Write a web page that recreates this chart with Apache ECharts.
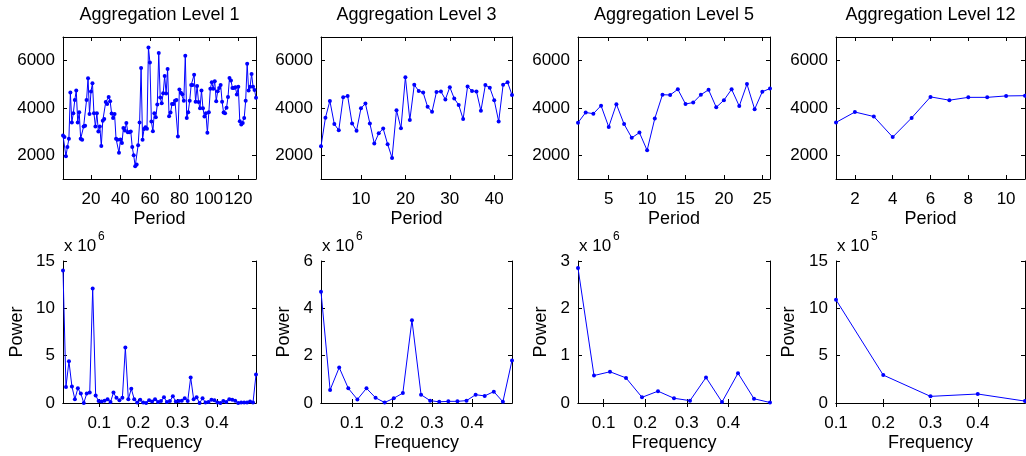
<!DOCTYPE html>
<html><head><meta charset="utf-8">
<script src="https://cdn.jsdelivr.net/npm/echarts@6/dist/echarts.min.js"></script>
<style>html,body{margin:0;padding:0;background:#fff}#c{width:1026px;height:456px}</style>
</head><body><div id="c"></div>
<script>
// ---------- DATA ----------
const titles = ['Aggregation Level 1','Aggregation Level 3','Aggregation Level 5','Aggregation Level 12'];
const level1 = [2840,2770,1960,2350,2700,4650,3390,3780,4340,4740,3390,3820,2700,2660,3220,3250,4340,5260,3750,4700,
 5050,3780,3220,3780,3010,3220,2390,3460,3540,4250,4170,4460,4290,3770,3580,3750,2700,2660,2110,2670,
 2520,3150,3050,3370,2980,2980,3010,2350,2000,1540,1610,2430,3390,5690,2660,3110,3190,3120,6560,5920,
 3430,3020,3780,3610,4150,6320,4440,4200,4620,5350,4610,5650,3650,3810,4170,4170,4310,4340,2800,4780,
 4640,4580,4310,6210,3580,3820,4310,4970,4970,5410,4260,4930,4250,3990,4740,3990,3640,3780,2950,3820,
 4810,5090,4810,5130,4290,4710,4850,4970,4260,3810,3780,4010,4460,5270,5160,4850,4850,4880,4570,4900,
 3440,3300,3370,3580,4310,5870,4740,4900,5440,4900,4760,4430];
const level3 = [2380,3590,4300,3320,3060,4450,4510,3350,3040,3990,4190,3350,2500,2930,3130,2470,1890,3910,3140,5300,
 3490,4980,4720,4650,4050,3840,4680,4700,4360,4880,4400,4130,3530,4910,4720,4700,3880,4970,4860,4330,
 3430,4980,5090,4550];
const level5 = [3380,3810,3760,4100,3200,4160,3320,2740,2960,2210,3560,4560,4550,4790,4170,4230,4560,4770,4030,4330,
 4790,4080,5010,3950,4690,4820];
const level12 = [3390,3830,3640,2770,3580,4470,4330,4450,4450,4510,4520];
// power spectra (in units of the exponent shown above each axis)
const power1 = [14.0,1.7,4.4,1.75,0.4,1.55,1.0,0.0,1.0,1.1,12.1,0.8,0.2,0.17,0.25,0.4,0.1,1.1,0.55,0.3,
 0.55,5.85,0.4,1.5,0.4,0.05,0.35,0.05,0.0,0.3,0.15,0.4,0.1,0.2,0.6,0.1,0.2,0.7,0.15,0.2,
 0.25,0.5,0.2,2.7,0.4,0.6,0.0,0.5,0.05,0.1,0.35,0.3,0.05,0.0,0.2,0.1,0.4,0.35,0.25,0.0,
 0.05,0.05,0.05,0.15,0.05,3.0];
const power3 = [4.7,0.55,1.5,0.62,0.15,0.62,0.22,0.02,0.2,0.42,3.5,0.35,0.1,0.05,0.07,0.07,0.1,0.35,0.3,0.48,0.05,1.8];
const power5 = [2.85,0.58,0.66,0.53,0.12,0.25,0.1,0.05,0.54,0.02,0.63,0.09,0.01];
const power12 = [10.9,2.95,0.7,0.95,0.2];
const specN = [132,44,26,10];           // frequency step denominators
const exponents = ['6','6','6','5'];
const periodTicks = [[20,40,60,80,100,120],[10,20,30,40],[5,10,15,20,25],[2,4,6,8,10]];
const levelTicks = [2000,4000,6000];
const freqTicks = [[0.1,0.2,0.3,0.4],[0.1,0.2,0.3,0.4],[0.1,0.2,0.3,0.4],[0.1,0.2,0.3,0.4]];
const powerTicks = [[0,5,10,15],[0,2,4,6],[0,1,2,3],[0,5,10,15]];
const powerMax = [15,6,3,15];

// ---------- CHART ----------
const series1 = [level1,level3,level5,level12];
const series2 = [power1,power3,power5,power12];
const FONT = 'Liberation Sans, Arial, Helvetica, sans-serif';
const lefts = [63,321,578,836];
const widths = [193,191,192,189];
const topRowTop = 37, botRowTop = 261, H = 142;
const powerGap = [37,28,28,38];

const grids=[], xAxes=[], yAxes=[], series=[], graphics=[];
const plain = v => String(Math.round(v*1000)/1000);
function addAxes(gi, xmin, xmax, xticks, ymin, ymax, yticks, xname, yname, ygap){
  const tickStyle = {show:true, inside:true, length:4, lineStyle:{color:'#000',width:1}};
  const lineStyle = {show:true, lineStyle:{color:'#000',width:1}};
  xAxes.push({type:'value', gridIndex:gi, min:xmin, max:xmax, position:'bottom',
    axisLine:lineStyle, splitLine:{show:false},
    axisTick:Object.assign({customValues:xticks},tickStyle),
    axisLabel:{customValues:xticks, formatter:plain, color:'#000', fontFamily:FONT, fontSize:17, margin:12},
    name:xname, nameLocation:'middle', nameGap:31,
    nameTextStyle:{color:'#000', fontFamily:FONT, fontSize:18}});
  xAxes.push({type:'value', gridIndex:gi, min:xmin, max:xmax, position:'top',
    axisLine:lineStyle, splitLine:{show:false},
    axisTick:Object.assign({customValues:xticks},tickStyle),
    axisLabel:{show:false}});
  yAxes.push({type:'value', gridIndex:gi, min:ymin, max:ymax, position:'left',
    axisLine:lineStyle, splitLine:{show:false},
    axisTick:Object.assign({customValues:yticks},tickStyle),
    axisLabel:{customValues:yticks, formatter:plain, color:'#000', fontFamily:FONT, fontSize:17, margin:8},
    name:yname, nameLocation:'middle', nameGap:ygap,
    nameTextStyle:{color:'#000', fontFamily:FONT, fontSize:18}});
  yAxes.push({type:'value', gridIndex:gi, min:ymin, max:ymax, position:'right',
    axisLine:lineStyle, splitLine:{show:false},
    axisTick:Object.assign({customValues:yticks},tickStyle),
    axisLabel:{show:false}});
}
function addSeries(gi, data){
  series.push({type:'line', xAxisIndex:gi*2, yAxisIndex:gi*2, data:data,
    symbol:'circle', symbolSize:4, showSymbol:true, animation:false,
    lineStyle:{color:'#0000ff', width:1}, itemStyle:{color:'#0000ff'}, clip:false});
}
for(let c=0;c<4;c++){
  const gi = c;
  grids.push({left:lefts[c], top:topRowTop, width:widths[c], height:H});
  const d = series1[c];
  addAxes(gi, 1, d.length, periodTicks[c], 1000, 7000, levelTicks, 'Period', '', 0);
  addSeries(gi, d.map((v,i)=>[i+1, v]));
  graphics.push({type:'text', x:lefts[c]+widths[c]/2, y:6,
    style:{text:titles[c], fill:'#000', font:'18px '+FONT, textAlign:'center', textVerticalAlign:'top'}});
}
for(let c=0;c<4;c++){
  const gi = 4+c;
  grids.push({left:lefts[c], top:botRowTop, width:widths[c], height:H});
  const p = series2[c], N = specN[c];
  addAxes(gi, 1/N, 0.5, freqTicks[c], 0, powerMax[c], powerTicks[c], 'Frequency', 'Power', powerGap[c]);
  addSeries(gi, p.map((v,i)=>[(i+1)/N, v]));
  graphics.push({type:'text', x:lefts[c]+1, y:238,
    style:{text:'x 10', fill:'#000', font:'17px '+FONT, textVerticalAlign:'top'}});
  graphics.push({type:'text', x:lefts[c]+35, y:231,
    style:{text:exponents[c], fill:'#000', font:'12px '+FONT, textVerticalAlign:'top'}});
}
// level-12 spectrum starts at its first frequency 0.1
xAxes[2*7].min = 0.1; xAxes[2*7+1].min = 0.1;

const chart = echarts.init(document.getElementById('c'), null, {renderer:'canvas'});
chart.setOption({animation:false, grid:grids, xAxis:xAxes, yAxis:yAxes, series:series, graphic:graphics});
</script></body></html>
